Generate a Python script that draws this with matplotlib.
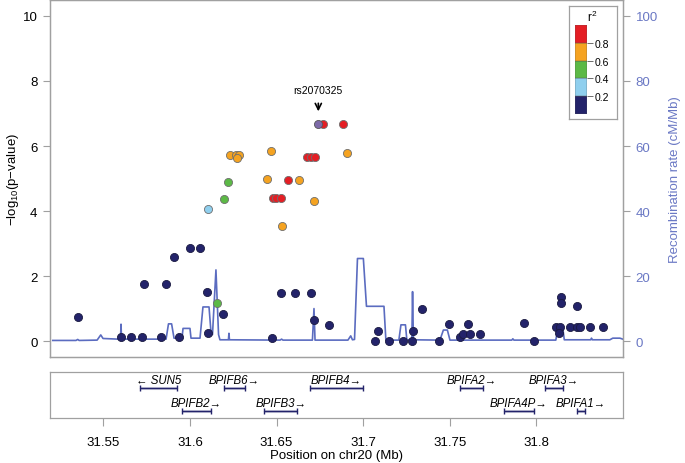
import matplotlib
matplotlib.use("Agg")
import matplotlib.pyplot as plt

plt.rcParams.update({
    "font.family": ["Liberation Sans", "DejaVu Sans"],
    "mathtext.fontset": "custom",
    "mathtext.rm": "Liberation Sans",
    "mathtext.it": "Liberation Sans:italic",
})

# ── SNPs: position (Mb), -log10(p), r2 class ───────────────────────────
navy_pos = [31.5352, 31.5737, 31.5862, 31.5906, 31.6002, 31.6060, 31.6097, 31.6192,
            31.6102, 31.5602, 31.5660, 31.5725, 31.5831, 31.5939, 31.6472, 31.6525,
            31.6604, 31.6697, 31.6714, 31.6804, 31.7087, 31.7068, 31.7147, 31.7231,
            31.7280, 31.7285, 31.7337, 31.7435, 31.7497, 31.7558, 31.7576, 31.7607,
            31.7616, 31.7674, 31.7931, 31.7985, 31.8141, 31.8141, 31.8116, 31.8139,
            31.8130, 31.8193, 31.8233, 31.8249, 31.8235, 31.8310, 31.8385]
navy_p = [0.74, 1.76, 1.76, 2.59, 2.86, 2.86, 1.50, 0.84,
          0.24, 0.12, 0.12, 0.12, 0.12, 0.12, 0.11, 1.48,
          1.48, 1.48, 0.66, 0.48, 0.30, 0.00, 0.00, 0.00,
          0.00, 0.30, 1.00, 0.00, 0.52, 0.13, 0.21, 0.52,
          0.21, 0.21, 0.56, 0.00, 1.37, 1.18, 0.44, 0.44,
          0.25, 0.44, 0.44, 0.44, 1.07, 0.44, 0.44]
lblue_pos = [31.6102]
lblue_p = [4.06]
green_pos = [31.6221, 31.6195, 31.6156]
green_p = [4.88, 4.38, 1.18]
orange_pos = [31.6231, 31.6267, 31.6284, 31.6274, 31.6466, 31.6445, 31.6631,
              31.6529, 31.6714, 31.6904]
orange_p = [5.72, 5.72, 5.72, 5.63, 5.86, 5.00, 4.94, 3.55, 4.32, 5.80]
red_pos = [31.6566, 31.6478, 31.6495, 31.6524, 31.6674, 31.6697, 31.6720,
           31.6768, 31.6881]
red_p = [4.94, 4.39, 4.39, 4.39, 5.65, 5.65, 5.65, 6.68, 6.68]
index_snp = "rs2070325"
index_pos = 31.6741
index_p = 6.68

# ── recombination rate (cM/Mb) ──────────────────────────────────────────
recomb_pos = [31.5208, 31.5342, 31.5352, 31.5360, 31.5464, 31.5485, 31.5498, 31.5585,
              31.5599, 31.5602, 31.5605, 31.5862, 31.5876, 31.5894, 31.5908, 31.5954,
              31.5960, 31.6000, 31.6006, 31.6058, 31.6075, 31.6110, 31.6121, 31.6130,
              31.6150, 31.6165, 31.6173, 31.6222, 31.6225, 31.6228, 31.6520, 31.6529,
              31.6537, 31.6707, 31.6716, 31.6722, 31.6912, 31.6928, 31.6938, 31.6950,
              31.6967, 31.7001, 31.7019, 31.7120, 31.7131, 31.7206, 31.7218, 31.7244,
              31.7252, 31.7281, 31.7285, 31.7290, 31.7443, 31.7463, 31.7486, 31.7501,
              31.7858, 31.7864, 31.7870, 31.8112, 31.8124, 31.8153, 31.8161, 31.8314,
              31.8318, 31.8323, 31.8424, 31.8441, 31.8482, 31.8499]
recomb_rate = [0.2, 0.2, 0.5, 0.2, 0.3, 1.9, 0.8, 0.6,
               0.6, 5.2, 0.6, 0.6, 5.3, 5.3, 0.9, 0.9,
               3.9, 3.9, 0.9, 0.9, 10.5, 10.5, 3.0, 2.0,
               21.9, 2.0, 0.4, 0.4, 2.4, 0.4, 0.3, 0.6,
               0.3, 0.3, 10.0, 0.3, 0.3, 1.6, 0.4, 0.5,
               25.4, 25.4, 10.7, 10.7, 0.3, 0.3, 5.0, 5.0,
               0.4, 0.4, 15.2, 0.4, 0.3, 3.4, 3.4, 0.3,
               0.3, 0.7, 0.3, 0.3, 3.7, 3.7, 0.4, 0.4,
               0.9, 0.4, 0.4, 0.9, 0.9, 0.6]

# ── genes ───────────────────────────────────────────────────────────────
gene_names = ["SUN5", "BPIFB6", "BPIFB4", "BPIFA2", "BPIFA3",
              "BPIFB2", "BPIFB3", "BPIFA4P", "BPIFA1"]
gene_start = [31.5712, 31.6194, 31.6694, 31.7560, 31.8049,
              31.5952, 31.6430, 31.7812, 31.8235]
gene_end = [31.5924, 31.6319, 31.6999, 31.7694, 31.8155,
            31.6119, 31.6618, 31.7984, 31.8278]
gene_strand = ["-", "+", "+", "+", "+", "+", "+", "+", "+"]
gene_row = [0, 0, 0, 0, 0, 1, 1, 1, 1]

ld_breaks = [0.0, 0.2, 0.4, 0.6, 0.8, 1.0]
ld_colors = ["#23236a", "#8fcfee", "#5cb946", "#f5a321", "#e41e24"]
index_color = "#7d6aa8"
recomb_color = "#5b6cc0"
axis_grey = "#a0a0a0"

xlim = (31.5192, 31.85)
x_ticks = [31.55, 31.6, 31.65, 31.7, 31.75, 31.8]

fig = plt.figure(figsize=(6.85, 4.64), dpi=100)
ax = fig.add_axes([0.073, 0.2284, 0.8365, 0.7694])
ax2 = ax.twinx()

# recombination line behind points
ax2.plot(recomb_pos, recomb_rate, color=recomb_color, lw=1.2, zorder=1)
ax2.set_ylim(-4.9, 104.9)
ax2.set_yticks([0, 20, 40, 60, 80, 100])
ax2.tick_params(axis="y", colors=axis_grey, labelcolor="#6a78c4", labelsize=9.5,
                length=5, pad=4)
ax2.set_ylabel("Recombination rate (cM/Mb)", color="#6a78c4", fontsize=9.5, labelpad=8)

ax.set_zorder(ax2.get_zorder() + 1)
ax.patch.set_visible(False)

groups = [(navy_pos, navy_p, ld_colors[0], "#1a1a40"),
          (lblue_pos, lblue_p, ld_colors[1], "#6e6e6e"),
          (green_pos, green_p, ld_colors[2], "#6e6e6e"),
          (orange_pos, orange_p, ld_colors[3], "#6e6e6e"),
          (red_pos, red_p, ld_colors[4], "#6e6e6e")]
for pos, pv, fc, ec in groups:
    ax.scatter(pos, pv, s=34, color=fc, edgecolors=ec, linewidths=0.6, zorder=3)
ax.scatter([index_pos], [index_p], s=34, color=index_color, edgecolors="#555555",
           linewidths=0.6, zorder=4)

ax.annotate("", xy=(index_pos, 6.98), xytext=(index_pos, 7.4),
            arrowprops=dict(arrowstyle="->", color="black", lw=1.2,
                            mutation_scale=11))
ax.text(index_pos, 7.72, index_snp, ha="center", va="center", fontsize=7.5)

ax.set_xlim(*xlim)
ax2.set_xlim(*xlim)
ax.set_ylim(-0.49, 10.49)
ax.set_yticks([0, 2, 4, 6, 8, 10])
ax.set_xticks([])
ax.tick_params(axis="y", colors=axis_grey, labelcolor="black", labelsize=9.5,
               length=5, pad=4)
ax.set_ylabel(r"$-$log$_{10}$(p$-$value)", fontsize=9.5, labelpad=1)
for a in (ax, ax2):
    for sp in a.spines.values():
        sp.set_color(axis_grey)
        sp.set_linewidth(0.9)

# ── r2 legend ───────────────────────────────────────────────────────────
frame = fig.add_axes([0.8307, 0.7414, 0.0701, 0.2435], zorder=5)
frame.set_xticks([])
frame.set_yticks([])
frame.set_facecolor("white")
for sp in frame.spines.values():
    sp.set_color(axis_grey)
    sp.set_linewidth(0.9)

lax = fig.add_axes([0.8399, 0.7522, 0.0175, 0.1918], zorder=6)
lax.bar([0] * 5, [ld_breaks[i + 1] - ld_breaks[i] for i in range(5)], bottom=ld_breaks[:-1],
        color=ld_colors, width=1.0, edgecolor="#555555", linewidth=0.3)
lax.set_xlim(-0.5, 0.5)
lax.set_ylim(0, 1)
lax.set_xticks([])
lax.patch.set_visible(False)
lax.yaxis.tick_right()
lax.set_yticks(ld_breaks[1:-1])
lax.set_yticklabels(["0.2", "0.4", "0.6", "0.8"])
lax.tick_params(axis="y", length=4, width=0.6, colors="#555555", labelcolor="black",
                labelsize=7.5, pad=1.5)
for sp in lax.spines.values():
    sp.set_visible(False)
lax.text(1.4, 1.1, r"r$^2$", transform=lax.transAxes, ha="center", va="center",
         fontsize=8.5)

# ── gene track ──────────────────────────────────────────────────────────
gax = fig.add_axes([0.073, 0.097, 0.8365, 0.0991])
row_line = [0.652, 0.146]
row_text = [0.826, 0.326]
for name, s, e, st, r in zip(gene_names, gene_start, gene_end, gene_strand, gene_row):
    gax.plot([s, e], [row_line[r]] * 2, color="#23236a", lw=0.8,
             marker="|", ms=4, markevery=[0, 1])
    gax.plot([s, e], [row_line[r]] * 2, color="#23236a", lw=2.2, alpha=0.35,
             solid_capstyle="butt")
    label = "\u2190 " + name if st == "-" else name + "\u2192"
    gax.text((s + e) / 2, row_text[r], label, ha="center", va="center",
             fontsize=8.3, style="italic")
gax.set_xlim(*xlim)
gax.set_ylim(0, 1)
gax.set_yticks([])
gax.set_xticks(x_ticks)
gax.set_xticklabels(["31.55", "31.6", "31.65", "31.7", "31.75", "31.8"])
gax.tick_params(axis="x", colors=axis_grey, labelcolor="black", labelsize=9.5,
                length=6, pad=7)
for sp in gax.spines.values():
    sp.set_color(axis_grey)
    sp.set_linewidth(0.9)
gax.set_xlabel("Position on chr20 (Mb)", fontsize=9.5, labelpad=1)

fig.savefig("out.png", dpi=100, facecolor="white")
